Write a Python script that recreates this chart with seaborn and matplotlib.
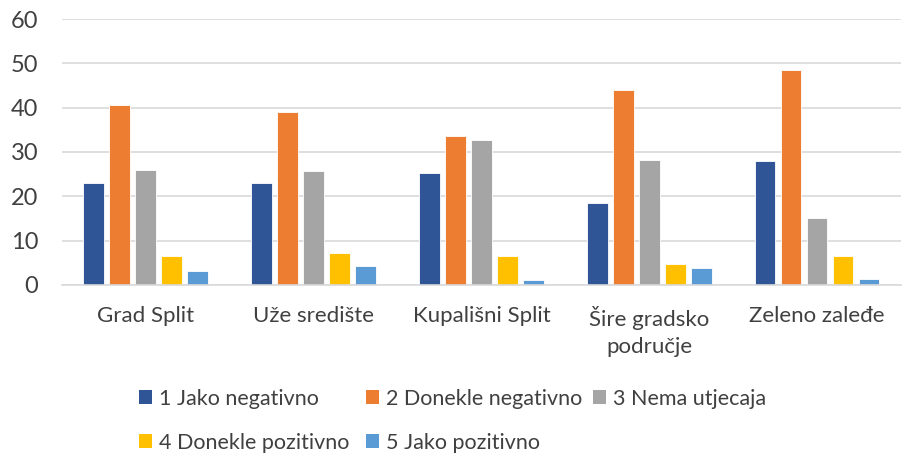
import pandas as pd
import matplotlib.pyplot as plt
import seaborn as sns
from matplotlib.patches import Patch

# podaci (očitano s grafa)
categories = ["Grad Split", "Uže središte", "Kupališni Split",
              "Šire gradsko\npodručje", "Zeleno zaleđe"]
series = ["1 Jako negativno", "2 Donekle negativno", "3 Nema utjecaja",
          "4 Donekle pozitivno", "5 Jako pozitivno"]
jako_negativno = [23.0, 22.9, 25.2, 18.5, 28.0]
donekle_negativno = [40.6, 39.0, 33.7, 44.0, 48.4]
nema_utjecaja = [26.0, 25.7, 32.7, 28.2, 15.1]
donekle_pozitivno = [6.5, 7.3, 6.5, 4.7, 6.5]
jako_pozitivno = [3.2, 4.3, 1.1, 3.8, 1.3]

colors = ["#2F5597", "#ED7D31", "#A5A5A5", "#FFC000", "#5B9BD5"]

values = [jako_negativno, donekle_negativno, nema_utjecaja, donekle_pozitivno, jako_pozitivno]
rows = []
for s, vals in zip(series, values):
    for c, v in zip(categories, vals):
        rows.append({"kategorija": c, "ocjena": s, "postotak": v})
df = pd.DataFrame(rows)

sns.set_style("white")
plt.rcParams["font.family"] = ["Lato", "DejaVu Sans"]

fig = plt.figure(figsize=(9.05, 4.53), dpi=100)
ax = fig.add_axes([0.0685, 0.371, 0.927, 0.587])

sns.barplot(data=df, x="kategorija", y="postotak", hue="ocjena",
            order=categories, hue_order=series, palette=colors, saturation=1,
            width=0.775, gap=0.2, edgecolor="white", linewidth=0.6,
            legend=False, ax=ax)

ax.set_ylim(0, 60)
ax.set_yticks(range(0, 61, 10))
ax.set_xlim(-0.5, len(categories) - 0.5)
ax.yaxis.grid(True, color="#D9D9D9", linewidth=1.2)
ax.set_axisbelow(True)
ax.set_xlabel("")
ax.set_ylabel("")
for side in ["left", "right", "top"]:
    ax.spines[side].set_visible(False)
ax.spines["bottom"].set_color("#D9D9D9")
ax.spines["bottom"].set_linewidth(1.2)
ax.tick_params(axis="both", length=0, labelcolor="#404040")
ax.tick_params(axis="x", pad=15, labelsize=16)
ax.tick_params(axis="y", pad=17, labelsize=17)
for lbl in ax.get_xticklabels():
    lbl.set_linespacing(1.45)

# legenda u dva reda, stupci jednake širine kao u Excelu
legend_pos = [(139, 399), (366, 399), (593, 399), (139, 443), (366, 443)]
for s, col, (px, py) in zip(series, colors, legend_pos):
    fig.legend(handles=[Patch(facecolor=col, edgecolor="none")], labels=[s],
               loc="center left", bbox_to_anchor=(px / 905, 1 - py / 453),
               frameon=False, fontsize=15.5, handlelength=0.62, handleheight=0.62,
               handletextpad=0.3, borderpad=0, borderaxespad=0,
               labelcolor="#404040")

fig.savefig("out.png", dpi=100)
